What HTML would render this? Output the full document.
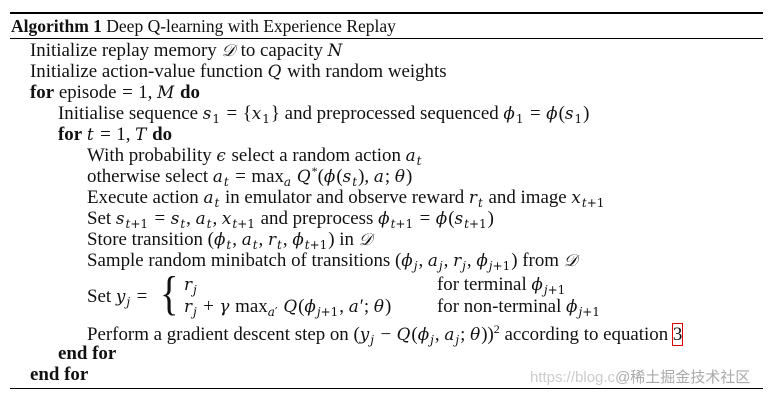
<!DOCTYPE html>
<html><head><meta charset="utf-8"><style>
html,body{margin:0;padding:0;background:#fff;}
body{width:774px;height:401px;position:relative;overflow:hidden;font-family:"Liberation Serif",serif;font-size:18.9px;color:#111;}
.t{font-size:17.5px;}
.l{position:absolute;white-space:nowrap;line-height:20px;}
i{font-style:italic;font-family:"DejaVu Serif",serif;font-size:16.8px;padding-right:1px;}
sub{font-size:12px;vertical-align:-4px;line-height:0;font-family:"DejaVu Serif",serif;padding-right:1px;}
sup{font-size:12px;vertical-align:7px;line-height:0;}
sub i,sup i{font-size:12px;padding-right:0;}
b{font-weight:bold;}
.o{margin:0 5.5px;}
.rule{position:absolute;left:10px;width:753px;background:#000;}
</style></head><body>
<div class="rule" style="top:12px;height:2px"></div>
<div class="rule" style="top:38px;height:1px"></div>
<div class="rule" style="top:388px;height:1px"></div>
<div class="l t" style="left:11px;top:16px"><b>Algorithm 1</b> Deep Q-learning with Experience Replay</div>
<div class="l" style="left:30px;top:40px">Initialize replay memory <i>𝒟</i> to capacity <i>N</i></div>
<div class="l" style="left:30px;top:61px">Initialize action-value function <i>Q</i> with random weights</div>
<div class="l" style="left:30px;top:82px"><b>for</b> episode<span class="o">=</span>1, <i>M</i> <b>do</b></div>
<div class="l" style="left:58px;top:103px">Initialise sequence <i>s</i><sub>1</sub><span class="o">=</span>{<i>x</i><sub>1</sub>} and preprocessed sequenced <i>ϕ</i><sub>1</sub><span class="o">=</span><i>ϕ</i>(<i>s</i><sub>1</sub>)</div>
<div class="l" style="left:58px;top:124px"><b>for</b> <i>t</i><span class="o">=</span>1, <i>T</i> <b>do</b></div>
<div class="l" style="left:87px;top:145px">With probability <i>ϵ</i> select a random action <i>a</i><sub><i>t</i></sub></div>
<div class="l" style="left:87px;top:166px">otherwise select <i>a</i><sub><i>t</i></sub><span class="o">=</span>max<sub><i>a</i></sub> <i>Q</i><sup>*</sup>(<i>ϕ</i>(<i>s</i><sub><i>t</i></sub>), <i>a</i>; <i>θ</i>)</div>
<div class="l" style="left:87px;top:187px">Execute action <i>a</i><sub><i>t</i></sub> in emulator and observe reward <i>r</i><sub><i>t</i></sub> and image <i>x</i><sub><i>t</i>+1</sub></div>
<div class="l" style="left:87px;top:208px">Set <i>s</i><sub><i>t</i>+1</sub><span class="o">=</span><i>s</i><sub><i>t</i></sub>, <i>a</i><sub><i>t</i></sub>, <i>x</i><sub><i>t</i>+1</sub> and preprocess <i>ϕ</i><sub><i>t</i>+1</sub><span class="o">=</span><i>ϕ</i>(<i>s</i><sub><i>t</i>+1</sub>)</div>
<div class="l" style="left:87px;top:229px">Store transition (<i>ϕ</i><sub><i>t</i></sub>, <i>a</i><sub><i>t</i></sub>, <i>r</i><sub><i>t</i></sub>, <i>ϕ</i><sub><i>t</i>+1</sub>) in <i>𝒟</i></div>
<div class="l" style="left:87px;top:250px">Sample random minibatch of transitions (<i>ϕ</i><sub><i>j</i></sub>, <i>a</i><sub><i>j</i></sub>, <i>r</i><sub><i>j</i></sub>, <i>ϕ</i><sub><i>j</i>+1</sub>) from <i>𝒟</i></div>
<div class="l" style="left:87px;top:286px">Set <i>y</i><sub><i>j</i></sub><span class="o">=</span></div>
<div class="l" style="left:160px;top:266px;font-size:48px;line-height:56px;transform:scaleX(0.8);transform-origin:left">{</div>
<div class="l" style="left:184px;top:274px"><i>r</i><sub><i>j</i></sub></div>
<div class="l" style="left:184px;top:296px"><i>r</i><sub><i>j</i></sub><span class="o">+</span><i>γ</i> max<sub><i>a</i>′</sub> <i>Q</i>(<i>ϕ</i><sub><i>j</i>+1</sub>, <i>a</i>′; <i>θ</i>)</div>
<div class="l" style="left:437px;top:274px">for terminal <i>ϕ</i><sub><i>j</i>+1</sub></div>
<div class="l" style="left:437px;top:296px">for non-terminal <i>ϕ</i><sub><i>j</i>+1</sub></div>
<div class="l" style="left:87px;top:324px">Perform a gradient descent step on (<i>y</i><sub><i>j</i></sub><span class="o">−</span><i>Q</i>(<i>ϕ</i><sub><i>j</i></sub>, <i>a</i><sub><i>j</i></sub>; <i>θ</i>))<sup>2</sup> according to equation <span style="outline:1px solid #d00;outline-offset:0">3</span></div>
<div class="l" style="left:58px;top:344px"><b>end for</b></div>
<div class="l" style="left:30px;top:365px"><b>end for</b></div>
<div class="l" style="left:530px;top:368px;color:#ccc;font-family:'Liberation Sans','Noto Sans CJK SC',sans-serif;font-size:15px">https://blog.c<span style="color:#aaa">@稀土掘金技术社区</span></div>
</body></html>
